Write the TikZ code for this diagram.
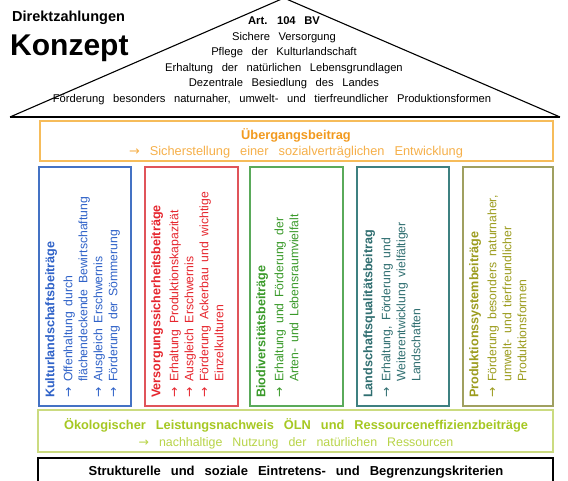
\documentclass[tikz,border=0pt]{standalone}
\usepackage{fontspec}
\setmainfont{Liberation Sans}
\newfontfamily\arrfont{DejaVu Sans}
\newcommand{\myarr}{{\arrfont →}}
\newcommand{\ind}{\hphantom{\myarr\ }}
\newcommand{\wsRoof}{\spaceskip=8.6pt\relax}
\newcommand{\wsLine}{\spaceskip=10pt\relax}
\newcommand{\wsCol}{\spaceskip=5.8pt\relax}
\newcommand{\ctitle}[1]{{\bfseries\fontsize{12.6}{15}\selectfont #1}}
\definecolor{orB}{HTML}{F6BC5A}
\definecolor{orT}{HTML}{F29A1E}
\definecolor{orT2}{HTML}{F6B04A}
\definecolor{blB}{HTML}{4472C4}
\definecolor{blT}{HTML}{2F62C8}
\definecolor{rdB}{HTML}{E0545A}
\definecolor{rdT}{HTML}{E6262E}
\definecolor{grB}{HTML}{5AAA5A}
\definecolor{grT}{HTML}{3A9A2A}
\definecolor{tlB}{HTML}{3E8080}
\definecolor{tlT}{HTML}{2F6E70}
\definecolor{olB}{HTML}{A0A060}
\definecolor{olT}{HTML}{9C9C1E}
\definecolor{ylB}{HTML}{CBDB80}
\definecolor{ylT}{HTML}{A6C822}
\definecolor{ylT2}{HTML}{B8D448}
\tikzset{
  colbox/.style={draw=#1, line width=1.4pt},
  coltext/.style={rotate=90, anchor=north west, align=left, inner sep=0pt,
    text=#1, font=\fontsize{12.2}{15}\selectfont\wsCol},
  rooftxt/.style={font=\fontsize{11.2}{14}\selectfont\wsRoof, anchor=base, inner sep=0pt},
  linetxt/.style={anchor=base, inner sep=0pt},
}
\begin{document}
\begin{tikzpicture}[x=1pt,y=-1pt]
\useasboundingbox (0,0) rectangle (568,481);
\fill[white] (0,0) rectangle (568,481);
% roof
\coordinate (apex) at (284,-2);
\coordinate (rl) at (10,117);
\coordinate (rr) at (560,117);
\draw[line width=1.1pt] (rl) -- (apex) -- (rr);
\draw[line width=1.6pt] (rl) -- (rr);
\node[anchor=base west, inner sep=0pt, font=\bfseries\fontsize{14.5}{16}\selectfont] (t1) at (12,22) {Direktzahlungen};
\node[anchor=base west, inner sep=0pt, font=\bfseries\fontsize{30}{32}\selectfont] (t2) at (10,56) {Konzept};
\node[rooftxt, font=\bfseries\fontsize{11.2}{14}\selectfont\wsRoof] (r1) at (284,25) {Art. 104 BV};
\node[rooftxt] (r2) at (284,40.5) {Sichere Versorgung};
\node[rooftxt] (r3) at (284,56) {Pflege der Kulturlandschaft};
\node[rooftxt] (r4) at (284,71.5) {Erhaltung der natürlichen Lebensgrundlagen};
\node[rooftxt] (r5) at (284,87) {Dezentrale Besiedlung des Landes};
\node[rooftxt] (r6) at (272,102.5) {Förderung besonders naturnaher, umwelt- und tierfreundlicher Produktionsformen};
% Uebergangsbeitrag
\draw[colbox=orB] (40,121) rectangle (553,161);
\node[linetxt, text=orT, font=\bfseries\fontsize{12.8}{15}\selectfont] (u1) at (296,140) {Übergangsbeitrag};
\node[linetxt, text=orT2, font=\fontsize{12.8}{15}\selectfont\wsLine] (u2) at (296,156) {\myarr\ Sicherstellung einer sozialverträglichen Entwicklung};
% columns
\draw[colbox=blB] (39,167) rectangle (131,406);
\node[coltext=blT] (c1) at (45,398) {\ctitle{Kulturlandschaftsbeiträge}\\[3pt]
\myarr\ Offenhaltung durch\\
\ind flächendeckende Bewirtschaftung\\
\myarr\ Ausgleich Erschwernis\\
\myarr\ Förderung der Sömmerung};
\draw[colbox=rdB] (145,167) rectangle (238,406);
\node[coltext=rdT] (c2) at (151,398) {\ctitle{Versorgungssicherheitsbeiträge}\\[3pt]
\myarr\ Erhaltung Produktionskapazität\\
\myarr\ Ausgleich Erschwernis\\
\myarr\ Förderung Ackerbau und wichtige\\
\ind Einzelkulturen};
\draw[colbox=grB] (250,167) rectangle (343,406);
\node[coltext=grT] (c3) at (256,398) {\ctitle{Biodiversitätsbeiträge}\\[3pt]
\myarr\ Erhaltung und Förderung der\\
\ind Arten- und Lebensraumvielfalt};
\draw[colbox=tlB] (357,167) rectangle (449,406);
\node[coltext=tlT] (c4) at (363,398) {\ctitle{Landschaftsqualitätsbeitrag}\\[3pt]
\myarr\ Erhaltung, Förderung und\\
\ind Weiterentwicklung vielfältiger\\
\ind Landschaften};
\draw[colbox=olB] (463,167) rectangle (553,406);
\node[coltext=olT] (c5) at (469,398) {\ctitle{Produktionssystembeiträge}\\[3pt]
\myarr\ Förderung besonders naturnaher,\\
\ind umwelt- und tierfreundlicher\\
\ind Produktionsformen};
% OELN
\draw[colbox=ylB] (38,410) rectangle (553,452);
\node[linetxt, text=ylT, font=\bfseries\fontsize{12.8}{15}\selectfont\wsLine] (o1) at (296,429.5) {Ökologischer Leistungsnachweis ÖLN und Ressourceneffizienzbeiträge};
\node[linetxt, text=ylT2, font=\fontsize{12.4}{15}\selectfont\wsLine] (o2) at (296,446.5) {\myarr\ nachhaltige Nutzung der natürlichen Ressourcen};
% Strukturelle
\draw[line width=1.4pt] (38,458) rectangle (553,490);
\node[linetxt, font=\bfseries\fontsize{13}{15}\selectfont\wsLine] (s1) at (296,475.5) {Strukturelle und soziale Eintretens- und Begrenzungskriterien};
\end{tikzpicture}
\end{document}
